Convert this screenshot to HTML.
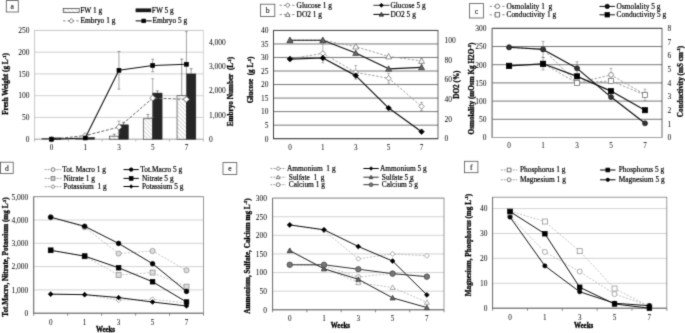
<!DOCTYPE html><html><head><meta charset="utf-8"><style>html,body{margin:0;padding:0;background:#fff;}svg{display:block;}#w{width:685px;height:333px;overflow:hidden;}text{font-family:"Liberation Serif",serif;}</style></head><body>
<div id="w">
<svg width="685" height="333" viewBox="0 0 685 333">
<defs><filter id="bl" color-interpolation-filters="sRGB" x="0" y="0" width="100%" height="100%"><feConvolveMatrix order="3" kernelMatrix="0.0366 0.191 0.0366 0.191 1 0.191 0.0366 0.191 0.0366" divisor="1.911" edgeMode="duplicate"/></filter><pattern id="hatch" patternUnits="userSpaceOnUse" width="2.9" height="2.9" patternTransform="rotate(-45)"><rect width="2.9" height="2.9" fill="#fff"/><line x1="0" y1="0" x2="0" y2="2.9" stroke="#8a8a8a" stroke-width="0.65"/></pattern></defs>
<rect width="685" height="333" fill="#fff"/><g filter="url(#bl)"><rect width="685" height="333" fill="#fff"/>
<line x1="34.60" y1="117.44" x2="203.30" y2="117.44" stroke="#c4c4c4" stroke-width="0.8"/>
<line x1="34.60" y1="95.68" x2="203.30" y2="95.68" stroke="#c4c4c4" stroke-width="0.8"/>
<line x1="34.60" y1="73.92" x2="203.30" y2="73.92" stroke="#c4c4c4" stroke-width="0.8"/>
<line x1="34.60" y1="52.16" x2="203.30" y2="52.16" stroke="#c4c4c4" stroke-width="0.8"/>
<line x1="34.60" y1="30.40" x2="203.30" y2="30.40" stroke="#c4c4c4" stroke-width="0.8"/>
<rect x="34.60" y="30.40" width="168.70" height="108.80" fill="none" stroke="#c8c8c8" stroke-width="0.8"/>
<line x1="34.60" y1="30.40" x2="34.60" y2="139.60" stroke="#c8c8c8" stroke-width="0.9"/>
<line x1="34.20" y1="139.20" x2="203.30" y2="139.20" stroke="#a8a8a8" stroke-width="0.9"/>
<line x1="34.60" y1="139.20" x2="34.60" y2="141.70" stroke="#a8a8a8" stroke-width="0.8"/>
<line x1="68.34" y1="139.20" x2="68.34" y2="141.70" stroke="#a8a8a8" stroke-width="0.8"/>
<line x1="102.08" y1="139.20" x2="102.08" y2="141.70" stroke="#a8a8a8" stroke-width="0.8"/>
<line x1="135.82" y1="139.20" x2="135.82" y2="141.70" stroke="#a8a8a8" stroke-width="0.8"/>
<line x1="169.56" y1="139.20" x2="169.56" y2="141.70" stroke="#a8a8a8" stroke-width="0.8"/>
<line x1="203.30" y1="139.20" x2="203.30" y2="141.70" stroke="#a8a8a8" stroke-width="0.8"/>
<text transform="translate(29.50 142.00) scale(1 1.04)" font-size="7.5" font-weight="normal" text-anchor="end" fill="#000" stroke="#000" stroke-width="0.0">0</text>
<text transform="translate(29.50 120.24) scale(1 1.04)" font-size="7.5" font-weight="normal" text-anchor="end" fill="#000" stroke="#000" stroke-width="0.0">50</text>
<text transform="translate(29.50 98.48) scale(1 1.04)" font-size="7.5" font-weight="normal" text-anchor="end" fill="#000" stroke="#000" stroke-width="0.0">100</text>
<text transform="translate(29.50 76.72) scale(1 1.04)" font-size="7.5" font-weight="normal" text-anchor="end" fill="#000" stroke="#000" stroke-width="0.0">150</text>
<text transform="translate(29.50 54.96) scale(1 1.04)" font-size="7.5" font-weight="normal" text-anchor="end" fill="#000" stroke="#000" stroke-width="0.0">200</text>
<text transform="translate(29.50 33.20) scale(1 1.04)" font-size="7.5" font-weight="normal" text-anchor="end" fill="#000" stroke="#000" stroke-width="0.0">250</text>
<text transform="translate(51.47 149.80) scale(1 1.0)" font-size="7.2" font-weight="normal" text-anchor="middle" fill="#000" stroke="#000" stroke-width="0.0">0</text>
<text transform="translate(85.21 149.80) scale(1 1.0)" font-size="7.2" font-weight="normal" text-anchor="middle" fill="#000" stroke="#000" stroke-width="0.0">1</text>
<text transform="translate(118.95 149.80) scale(1 1.0)" font-size="7.2" font-weight="normal" text-anchor="middle" fill="#000" stroke="#000" stroke-width="0.0">3</text>
<text transform="translate(152.69 149.80) scale(1 1.0)" font-size="7.2" font-weight="normal" text-anchor="middle" fill="#000" stroke="#000" stroke-width="0.0">5</text>
<text transform="translate(186.43 149.80) scale(1 1.0)" font-size="7.2" font-weight="normal" text-anchor="middle" fill="#000" stroke="#000" stroke-width="0.0">7</text>
<text transform="translate(209.00 141.80) scale(1 1.04)" font-size="7.5" font-weight="normal" text-anchor="start" fill="#000" stroke="#000" stroke-width="0.0">0</text>
<text transform="translate(209.00 117.62) scale(1 1.04)" font-size="7.5" font-weight="normal" text-anchor="start" fill="#000" stroke="#000" stroke-width="0.0">1,000</text>
<text transform="translate(209.00 93.44) scale(1 1.04)" font-size="7.5" font-weight="normal" text-anchor="start" fill="#000" stroke="#000" stroke-width="0.0">2,000</text>
<text transform="translate(209.00 69.27) scale(1 1.04)" font-size="7.5" font-weight="normal" text-anchor="start" fill="#000" stroke="#000" stroke-width="0.0">3,000</text>
<text transform="translate(209.00 45.09) scale(1 1.04)" font-size="7.5" font-weight="normal" text-anchor="start" fill="#000" stroke="#000" stroke-width="0.0">4,000</text>
<rect x="42.07" y="138.55" width="9.40" height="0.65" fill="url(#hatch)" stroke="#444" stroke-width="0.7"/>
<rect x="51.47" y="137.89" width="9.40" height="1.31" fill="#262626" stroke="#222" stroke-width="0.5"/>
<rect x="75.81" y="138.76" width="9.40" height="0.44" fill="url(#hatch)" stroke="#444" stroke-width="0.7"/>
<rect x="85.21" y="137.46" width="9.40" height="1.74" fill="#262626" stroke="#222" stroke-width="0.5"/>
<rect x="109.55" y="136.15" width="9.40" height="3.05" fill="url(#hatch)" stroke="#444" stroke-width="0.7"/>
<rect x="118.95" y="124.84" width="9.40" height="14.36" fill="#262626" stroke="#222" stroke-width="0.5"/>
<line x1="114.25" y1="134.20" x2="114.25" y2="136.15" stroke="#555" stroke-width="0.6"/>
<line x1="112.75" y1="134.20" x2="115.75" y2="134.20" stroke="#555" stroke-width="0.6"/>
<line x1="123.65" y1="122.23" x2="123.65" y2="124.84" stroke="#555" stroke-width="0.6"/>
<line x1="122.15" y1="122.23" x2="125.15" y2="122.23" stroke="#555" stroke-width="0.6"/>
<rect x="143.29" y="118.75" width="9.40" height="20.45" fill="url(#hatch)" stroke="#444" stroke-width="0.7"/>
<rect x="152.69" y="93.07" width="9.40" height="46.13" fill="#262626" stroke="#222" stroke-width="0.5"/>
<line x1="147.99" y1="114.39" x2="147.99" y2="118.75" stroke="#555" stroke-width="0.6"/>
<line x1="146.49" y1="114.39" x2="149.49" y2="114.39" stroke="#555" stroke-width="0.6"/>
<line x1="157.39" y1="90.89" x2="157.39" y2="93.07" stroke="#555" stroke-width="0.6"/>
<line x1="155.89" y1="90.89" x2="158.89" y2="90.89" stroke="#555" stroke-width="0.6"/>
<rect x="177.03" y="95.68" width="9.40" height="43.52" fill="url(#hatch)" stroke="#444" stroke-width="0.7"/>
<rect x="186.43" y="73.92" width="9.40" height="65.28" fill="#262626" stroke="#222" stroke-width="0.5"/>
<line x1="181.73" y1="59.12" x2="181.73" y2="95.68" stroke="#555" stroke-width="0.6"/>
<line x1="180.23" y1="59.12" x2="183.23" y2="59.12" stroke="#555" stroke-width="0.6"/>
<line x1="191.13" y1="68.70" x2="191.13" y2="73.92" stroke="#555" stroke-width="0.6"/>
<line x1="189.63" y1="68.70" x2="192.63" y2="68.70" stroke="#555" stroke-width="0.6"/>
<polyline points="51.47,139.20 85.21,135.57 118.95,127.11 152.69,98.10 186.43,99.31" fill="none" stroke="#666" stroke-width="1.0" stroke-dasharray="3,1.6" stroke-linejoin="round"/>
<line x1="118.95" y1="121.07" x2="118.95" y2="133.16" stroke="#777" stroke-width="0.6"/>
<line x1="117.45" y1="121.07" x2="120.45" y2="121.07" stroke="#777" stroke-width="0.6"/>
<line x1="117.45" y1="133.16" x2="120.45" y2="133.16" stroke="#777" stroke-width="0.6"/>
<line x1="152.69" y1="78.76" x2="152.69" y2="117.44" stroke="#777" stroke-width="0.6"/>
<line x1="151.19" y1="78.76" x2="154.19" y2="78.76" stroke="#777" stroke-width="0.6"/>
<line x1="151.19" y1="117.44" x2="154.19" y2="117.44" stroke="#777" stroke-width="0.6"/>
<polygon points="51.47,136.20 54.47,139.20 51.47,142.20 48.47,139.20" fill="#fff" stroke="#555" stroke-width="0.7"/>
<polygon points="85.21,132.57 88.21,135.57 85.21,138.57 82.21,135.57" fill="#fff" stroke="#555" stroke-width="0.7"/>
<polygon points="118.95,124.11 121.95,127.11 118.95,130.11 115.95,127.11" fill="#fff" stroke="#555" stroke-width="0.7"/>
<polygon points="152.69,95.10 155.69,98.10 152.69,101.10 149.69,98.10" fill="#fff" stroke="#555" stroke-width="0.7"/>
<polygon points="186.43,96.31 189.43,99.31 186.43,102.31 183.43,99.31" fill="#fff" stroke="#555" stroke-width="0.7"/>
<polyline points="51.47,139.20 85.21,137.99 118.95,70.29 152.69,65.46 186.43,64.25" fill="none" stroke="#111" stroke-width="1.1" stroke-linejoin="round"/>
<line x1="118.95" y1="51.43" x2="118.95" y2="89.15" stroke="#666" stroke-width="0.6"/>
<line x1="117.45" y1="51.43" x2="120.45" y2="51.43" stroke="#666" stroke-width="0.6"/>
<line x1="117.45" y1="89.15" x2="120.45" y2="89.15" stroke="#666" stroke-width="0.6"/>
<line x1="152.69" y1="59.17" x2="152.69" y2="71.74" stroke="#666" stroke-width="0.6"/>
<line x1="151.19" y1="59.17" x2="154.19" y2="59.17" stroke="#666" stroke-width="0.6"/>
<line x1="151.19" y1="71.74" x2="154.19" y2="71.74" stroke="#666" stroke-width="0.6"/>
<line x1="186.43" y1="31.61" x2="186.43" y2="96.89" stroke="#666" stroke-width="0.6"/>
<line x1="184.93" y1="31.61" x2="187.93" y2="31.61" stroke="#666" stroke-width="0.6"/>
<line x1="184.93" y1="96.89" x2="187.93" y2="96.89" stroke="#666" stroke-width="0.6"/>
<rect x="49.52" y="137.25" width="3.90" height="3.90" fill="#000" stroke="#000" stroke-width="0.7"/>
<rect x="83.26" y="136.04" width="3.90" height="3.90" fill="#000" stroke="#000" stroke-width="0.7"/>
<rect x="117.00" y="68.34" width="3.90" height="3.90" fill="#000" stroke="#000" stroke-width="0.7"/>
<rect x="150.74" y="63.51" width="3.90" height="3.90" fill="#000" stroke="#000" stroke-width="0.7"/>
<rect x="184.48" y="62.30" width="3.90" height="3.90" fill="#000" stroke="#000" stroke-width="0.7"/>
<rect x="6.3" y="0.6" width="12.0" height="11.4" fill="#fff" stroke="#555" stroke-width="0.8"/>
<text transform="translate(12.30 9.10) scale(1 1.04)" font-size="7.6" font-weight="normal" text-anchor="middle" fill="#222" stroke="#222" stroke-width="0.15">a</text>
<rect x="63.2" y="8.4" width="16" height="4" fill="url(#hatch)" stroke="#333" stroke-width="0.7"/>
<text transform="translate(80.20 12.60) scale(1 1.04)" font-size="7.4" font-weight="normal" text-anchor="start" fill="#000" stroke="#000" stroke-width="0.18">FW 1 g</text>
<rect x="135.6" y="8.4" width="15.6" height="3.8" fill="#1a1a1a"/>
<text transform="translate(151.80 12.60) scale(1 1.04)" font-size="7.4" font-weight="normal" text-anchor="start" fill="#000" stroke="#000" stroke-width="0.18">FW 5 g</text>
<line x1="63.20" y1="20.90" x2="79.40" y2="20.90" stroke="#777" stroke-width="1" stroke-dasharray="2.2,2.2"/>
<polygon points="71.30,18.60 73.60,20.90 71.30,23.20 69.00,20.90" fill="#fff" stroke="#444" stroke-width="0.7"/>
<text transform="translate(80.50 23.30) scale(1 1.04)" font-size="7.4" font-weight="normal" text-anchor="start" fill="#000" stroke="#000" stroke-width="0.18">Embryo 1 g</text>
<line x1="135.60" y1="20.90" x2="151.70" y2="20.90" stroke="#000" stroke-width="1"/>
<rect x="141.85" y="19.10" width="3.60" height="3.60" fill="#000" stroke="#000" stroke-width="0.7"/>
<text transform="translate(152.40 23.30) scale(1 1.04)" font-size="7.4" font-weight="normal" text-anchor="start" fill="#000" stroke="#000" stroke-width="0.18">Embryo 5 g</text>
<text transform="translate(8.00 84.00) rotate(-90) scale(1.0 1)" font-size="7.2" font-weight="bold" text-anchor="middle" fill="#000" stroke="#000" stroke-width="0.3">Fresh Weight (g L<tspan font-size="4.5" dy="-2.5">-1</tspan><tspan dy="2.5">)</tspan></text>
<text transform="translate(233.20 91.50) rotate(-90) scale(1.0 1)" font-size="7.2" font-weight="bold" text-anchor="middle" fill="#000" stroke="#000" stroke-width="0.3">Embryo Number&#160; (L<tspan font-size="4.5" dy="-2.5">-1</tspan><tspan dy="2.5">)</tspan></text>
<line x1="273.50" y1="125.16" x2="438.00" y2="125.16" stroke="#6a6a6a" stroke-width="0.9"/>
<line x1="273.50" y1="111.62" x2="438.00" y2="111.62" stroke="#6a6a6a" stroke-width="0.9"/>
<line x1="273.50" y1="98.09" x2="438.00" y2="98.09" stroke="#6a6a6a" stroke-width="0.9"/>
<line x1="273.50" y1="84.55" x2="438.00" y2="84.55" stroke="#6a6a6a" stroke-width="0.9"/>
<line x1="273.50" y1="71.01" x2="438.00" y2="71.01" stroke="#6a6a6a" stroke-width="0.9"/>
<line x1="273.50" y1="57.47" x2="438.00" y2="57.47" stroke="#6a6a6a" stroke-width="0.9"/>
<line x1="273.50" y1="43.94" x2="438.00" y2="43.94" stroke="#6a6a6a" stroke-width="0.9"/>
<line x1="273.50" y1="30.40" x2="438.00" y2="30.40" stroke="#6a6a6a" stroke-width="0.9"/>
<rect x="273.50" y="30.40" width="164.50" height="108.30" fill="none" stroke="#404040" stroke-width="0.8"/>
<line x1="273.50" y1="30.40" x2="273.50" y2="139.10" stroke="#404040" stroke-width="0.9"/>
<line x1="273.10" y1="138.70" x2="438.00" y2="138.70" stroke="#404040" stroke-width="0.9"/>
<text transform="translate(268.50 141.50) scale(1 1.04)" font-size="7.5" font-weight="normal" text-anchor="end" fill="#000" stroke="#000" stroke-width="0.0">0</text>
<text transform="translate(268.50 127.96) scale(1 1.04)" font-size="7.5" font-weight="normal" text-anchor="end" fill="#000" stroke="#000" stroke-width="0.0">5</text>
<text transform="translate(268.50 114.42) scale(1 1.04)" font-size="7.5" font-weight="normal" text-anchor="end" fill="#000" stroke="#000" stroke-width="0.0">10</text>
<text transform="translate(268.50 100.89) scale(1 1.04)" font-size="7.5" font-weight="normal" text-anchor="end" fill="#000" stroke="#000" stroke-width="0.0">15</text>
<text transform="translate(268.50 87.35) scale(1 1.04)" font-size="7.5" font-weight="normal" text-anchor="end" fill="#000" stroke="#000" stroke-width="0.0">20</text>
<text transform="translate(268.50 73.81) scale(1 1.04)" font-size="7.5" font-weight="normal" text-anchor="end" fill="#000" stroke="#000" stroke-width="0.0">25</text>
<text transform="translate(268.50 60.27) scale(1 1.04)" font-size="7.5" font-weight="normal" text-anchor="end" fill="#000" stroke="#000" stroke-width="0.0">30</text>
<text transform="translate(268.50 46.74) scale(1 1.04)" font-size="7.5" font-weight="normal" text-anchor="end" fill="#000" stroke="#000" stroke-width="0.0">35</text>
<text transform="translate(268.50 33.20) scale(1 1.04)" font-size="7.5" font-weight="normal" text-anchor="end" fill="#000" stroke="#000" stroke-width="0.0">40</text>
<text transform="translate(289.95 149.80) scale(1 1.0)" font-size="7.2" font-weight="normal" text-anchor="middle" fill="#000" stroke="#000" stroke-width="0.0">0</text>
<text transform="translate(322.85 149.80) scale(1 1.0)" font-size="7.2" font-weight="normal" text-anchor="middle" fill="#000" stroke="#000" stroke-width="0.0">1</text>
<text transform="translate(355.75 149.80) scale(1 1.0)" font-size="7.2" font-weight="normal" text-anchor="middle" fill="#000" stroke="#000" stroke-width="0.0">3</text>
<text transform="translate(388.65 149.80) scale(1 1.0)" font-size="7.2" font-weight="normal" text-anchor="middle" fill="#000" stroke="#000" stroke-width="0.0">5</text>
<text transform="translate(421.55 149.80) scale(1 1.0)" font-size="7.2" font-weight="normal" text-anchor="middle" fill="#000" stroke="#000" stroke-width="0.0">7</text>
<text transform="translate(444.50 141.30) scale(1 1.04)" font-size="7.5" font-weight="normal" text-anchor="start" fill="#000" stroke="#000" stroke-width="0.0">0</text>
<text transform="translate(444.50 121.61) scale(1 1.04)" font-size="7.5" font-weight="normal" text-anchor="start" fill="#000" stroke="#000" stroke-width="0.0">20</text>
<text transform="translate(444.50 101.92) scale(1 1.04)" font-size="7.5" font-weight="normal" text-anchor="start" fill="#000" stroke="#000" stroke-width="0.0">40</text>
<text transform="translate(444.50 82.23) scale(1 1.04)" font-size="7.5" font-weight="normal" text-anchor="start" fill="#000" stroke="#000" stroke-width="0.0">60</text>
<text transform="translate(444.50 62.54) scale(1 1.04)" font-size="7.5" font-weight="normal" text-anchor="start" fill="#000" stroke="#000" stroke-width="0.0">80</text>
<text transform="translate(444.50 42.85) scale(1 1.04)" font-size="7.5" font-weight="normal" text-anchor="start" fill="#000" stroke="#000" stroke-width="0.0">100</text>
<rect x="260.5" y="4.2" width="14.300000000000011" height="12.3" fill="#fff" stroke="#555" stroke-width="0.8"/>
<text transform="translate(267.65 13.15) scale(1 1.04)" font-size="7.6" font-weight="normal" text-anchor="middle" fill="#222" stroke="#222" stroke-width="0.15">b</text>
<polyline points="289.95,40.25 322.85,40.25 355.75,46.64 388.65,56.49 421.55,60.92" fill="none" stroke="#999" stroke-width="0.9" stroke-dasharray="2.5,1.5" stroke-linejoin="round"/>
<line x1="421.55" y1="57.97" x2="421.55" y2="63.87" stroke="#888" stroke-width="0.6"/>
<line x1="420.05" y1="57.97" x2="423.05" y2="57.97" stroke="#888" stroke-width="0.6"/>
<line x1="420.05" y1="63.87" x2="423.05" y2="63.87" stroke="#888" stroke-width="0.6"/>
<polygon points="289.95,37.25 292.95,42.65 286.95,42.65" fill="#fff" stroke="#666" stroke-width="0.7"/>
<polygon points="322.85,37.25 325.85,42.65 319.85,42.65" fill="#fff" stroke="#666" stroke-width="0.7"/>
<polygon points="355.75,43.64 358.75,49.04 352.75,49.04" fill="#fff" stroke="#666" stroke-width="0.7"/>
<polygon points="388.65,53.49 391.65,58.89 385.65,58.89" fill="#fff" stroke="#666" stroke-width="0.7"/>
<polygon points="421.55,57.92 424.55,63.32 418.55,63.32" fill="#fff" stroke="#666" stroke-width="0.7"/>
<polyline points="289.95,40.25 322.85,40.25 355.75,53.04 388.65,68.80 421.55,67.32" fill="none" stroke="#111" stroke-width="1.2" stroke-linejoin="round"/>
<polygon points="289.95,37.25 292.95,42.65 286.95,42.65" fill="#666" stroke="#333" stroke-width="0.7"/>
<polygon points="322.85,37.25 325.85,42.65 319.85,42.65" fill="#666" stroke="#333" stroke-width="0.7"/>
<polygon points="355.75,50.04 358.75,55.44 352.75,55.44" fill="#666" stroke="#333" stroke-width="0.7"/>
<polygon points="388.65,65.80 391.65,71.20 385.65,71.20" fill="#666" stroke="#333" stroke-width="0.7"/>
<polygon points="421.55,64.32 424.55,69.72 418.55,69.72" fill="#666" stroke="#333" stroke-width="0.7"/>
<polyline points="289.95,58.83 322.85,53.41 355.75,72.37 388.65,78.32 421.55,106.48" fill="none" stroke="#999" stroke-width="0.9" stroke-dasharray="2.5,1.5" stroke-linejoin="round"/>
<line x1="322.85" y1="43.94" x2="322.85" y2="62.89" stroke="#888" stroke-width="0.6"/>
<line x1="321.35" y1="43.94" x2="324.35" y2="43.94" stroke="#888" stroke-width="0.6"/>
<line x1="321.35" y1="62.89" x2="324.35" y2="62.89" stroke="#888" stroke-width="0.6"/>
<line x1="355.75" y1="65.60" x2="355.75" y2="79.14" stroke="#888" stroke-width="0.6"/>
<line x1="354.25" y1="65.60" x2="357.25" y2="65.60" stroke="#888" stroke-width="0.6"/>
<line x1="354.25" y1="79.14" x2="357.25" y2="79.14" stroke="#888" stroke-width="0.6"/>
<line x1="388.65" y1="73.45" x2="388.65" y2="83.20" stroke="#888" stroke-width="0.6"/>
<line x1="387.15" y1="73.45" x2="390.15" y2="73.45" stroke="#888" stroke-width="0.6"/>
<line x1="387.15" y1="83.20" x2="390.15" y2="83.20" stroke="#888" stroke-width="0.6"/>
<line x1="421.55" y1="102.42" x2="421.55" y2="110.54" stroke="#888" stroke-width="0.6"/>
<line x1="420.05" y1="102.42" x2="423.05" y2="102.42" stroke="#888" stroke-width="0.6"/>
<line x1="420.05" y1="110.54" x2="423.05" y2="110.54" stroke="#888" stroke-width="0.6"/>
<polygon points="289.95,56.08 292.70,58.83 289.95,61.58 287.20,58.83" fill="#fff" stroke="#666" stroke-width="0.7"/>
<polygon points="322.85,50.66 325.60,53.41 322.85,56.16 320.10,53.41" fill="#fff" stroke="#666" stroke-width="0.7"/>
<polygon points="355.75,69.62 358.50,72.37 355.75,75.12 353.00,72.37" fill="#fff" stroke="#666" stroke-width="0.7"/>
<polygon points="388.65,75.57 391.40,78.32 388.65,81.07 385.90,78.32" fill="#fff" stroke="#666" stroke-width="0.7"/>
<polygon points="421.55,103.73 424.30,106.48 421.55,109.23 418.80,106.48" fill="#fff" stroke="#666" stroke-width="0.7"/>
<polyline points="289.95,59.10 322.85,58.02 355.75,75.62 388.65,108.11 421.55,131.66" fill="none" stroke="#111" stroke-width="1.2" stroke-linejoin="round"/>
<polygon points="289.95,56.35 292.70,59.10 289.95,61.85 287.20,59.10" fill="#000" stroke="#000" stroke-width="0.7"/>
<polygon points="322.85,55.27 325.60,58.02 322.85,60.77 320.10,58.02" fill="#000" stroke="#000" stroke-width="0.7"/>
<polygon points="355.75,72.87 358.50,75.62 355.75,78.37 353.00,75.62" fill="#000" stroke="#000" stroke-width="0.7"/>
<polygon points="388.65,105.36 391.40,108.11 388.65,110.86 385.90,108.11" fill="#000" stroke="#000" stroke-width="0.7"/>
<polygon points="421.55,128.91 424.30,131.66 421.55,134.41 418.80,131.66" fill="#000" stroke="#000" stroke-width="0.7"/>
<line x1="279.60" y1="5.30" x2="295.80" y2="5.30" stroke="#888" stroke-width="1" stroke-dasharray="2.2,2"/>
<polygon points="287.70,3.00 290.00,5.30 287.70,7.60 285.40,5.30" fill="#fff" stroke="#444" stroke-width="0.7"/>
<text transform="translate(296.60 7.70) scale(1 1.04)" font-size="7.4" font-weight="normal" text-anchor="start" fill="#000" stroke="#000" stroke-width="0.18">Glucose 1 g</text>
<line x1="279.60" y1="14.60" x2="295.80" y2="14.60" stroke="#888" stroke-width="1" stroke-dasharray="2.2,2"/>
<polygon points="287.70,12.30 290.00,16.44 285.40,16.44" fill="#fff" stroke="#444" stroke-width="0.7"/>
<text transform="translate(296.60 17.00) scale(1 1.04)" font-size="7.4" font-weight="normal" text-anchor="start" fill="#000" stroke="#000" stroke-width="0.18">DO2 1 g</text>
<line x1="373.40" y1="5.30" x2="389.40" y2="5.30" stroke="#333" stroke-width="1"/>
<polygon points="381.40,3.30 383.40,5.30 381.40,7.30 379.40,5.30" fill="#000" stroke="#000" stroke-width="0.7"/>
<text transform="translate(390.40 7.70) scale(1 1.04)" font-size="7.4" font-weight="normal" text-anchor="start" fill="#000" stroke="#000" stroke-width="0.18">Glucose 5 g</text>
<line x1="373.40" y1="14.40" x2="389.40" y2="14.40" stroke="#000" stroke-width="1"/>
<polygon points="381.40,12.20 383.60,16.16 379.20,16.16" fill="#555" stroke="#222" stroke-width="0.7"/>
<text transform="translate(390.40 16.80) scale(1 1.04)" font-size="7.4" font-weight="normal" text-anchor="start" fill="#000" stroke="#000" stroke-width="0.18">DO2 5 g</text>
<text transform="translate(253.20 79.90) rotate(-90) scale(1.0 1)" font-size="7.2" font-weight="bold" text-anchor="middle" fill="#000" stroke="#000" stroke-width="0.3">Glucose&#160; (g L<tspan font-size="4.5" dy="-2.5">-1</tspan><tspan dy="2.5">)</tspan></text>
<text transform="translate(458.50 84.60) rotate(-90) scale(1.0 1)" font-size="7.2" font-weight="bold" text-anchor="middle" fill="#000" stroke="#000" stroke-width="0.3">DO2 (%)</text>
<line x1="492.10" y1="119.30" x2="662.00" y2="119.30" stroke="#686868" stroke-width="0.9"/>
<line x1="492.10" y1="101.10" x2="662.00" y2="101.10" stroke="#686868" stroke-width="0.9"/>
<line x1="492.10" y1="82.90" x2="662.00" y2="82.90" stroke="#686868" stroke-width="0.9"/>
<line x1="492.10" y1="64.70" x2="662.00" y2="64.70" stroke="#686868" stroke-width="0.9"/>
<line x1="492.10" y1="46.50" x2="662.00" y2="46.50" stroke="#686868" stroke-width="0.9"/>
<line x1="492.10" y1="28.30" x2="662.00" y2="28.30" stroke="#686868" stroke-width="0.9"/>
<rect x="492.10" y="28.30" width="169.90" height="109.20" fill="none" stroke="#404040" stroke-width="0.8"/>
<line x1="492.10" y1="28.30" x2="492.10" y2="137.90" stroke="#9a9a9a" stroke-width="0.9"/>
<line x1="491.70" y1="137.50" x2="662.00" y2="137.50" stroke="#a8a8a8" stroke-width="0.9"/>
<text transform="translate(486.50 140.30) scale(1 1.04)" font-size="7.5" font-weight="normal" text-anchor="end" fill="#000" stroke="#000" stroke-width="0.0">0</text>
<text transform="translate(486.50 122.10) scale(1 1.04)" font-size="7.5" font-weight="normal" text-anchor="end" fill="#000" stroke="#000" stroke-width="0.0">50</text>
<text transform="translate(486.50 103.90) scale(1 1.04)" font-size="7.5" font-weight="normal" text-anchor="end" fill="#000" stroke="#000" stroke-width="0.0">100</text>
<text transform="translate(486.50 85.70) scale(1 1.04)" font-size="7.5" font-weight="normal" text-anchor="end" fill="#000" stroke="#000" stroke-width="0.0">150</text>
<text transform="translate(486.50 67.50) scale(1 1.04)" font-size="7.5" font-weight="normal" text-anchor="end" fill="#000" stroke="#000" stroke-width="0.0">200</text>
<text transform="translate(486.50 49.30) scale(1 1.04)" font-size="7.5" font-weight="normal" text-anchor="end" fill="#000" stroke="#000" stroke-width="0.0">250</text>
<text transform="translate(486.50 31.10) scale(1 1.04)" font-size="7.5" font-weight="normal" text-anchor="end" fill="#000" stroke="#000" stroke-width="0.0">300</text>
<text transform="translate(509.09 148.20) scale(1 1.0)" font-size="7.2" font-weight="normal" text-anchor="middle" fill="#000" stroke="#000" stroke-width="0.0">0</text>
<text transform="translate(543.07 148.20) scale(1 1.0)" font-size="7.2" font-weight="normal" text-anchor="middle" fill="#000" stroke="#000" stroke-width="0.0">1</text>
<text transform="translate(577.05 148.20) scale(1 1.0)" font-size="7.2" font-weight="normal" text-anchor="middle" fill="#000" stroke="#000" stroke-width="0.0">3</text>
<text transform="translate(611.03 148.20) scale(1 1.0)" font-size="7.2" font-weight="normal" text-anchor="middle" fill="#000" stroke="#000" stroke-width="0.0">5</text>
<text transform="translate(645.01 148.20) scale(1 1.0)" font-size="7.2" font-weight="normal" text-anchor="middle" fill="#000" stroke="#000" stroke-width="0.0">7</text>
<text transform="translate(669.30 140.30) scale(1 1.04)" font-size="7.5" font-weight="normal" text-anchor="middle" fill="#000" stroke="#000" stroke-width="0.0">0</text>
<text transform="translate(669.30 126.65) scale(1 1.04)" font-size="7.5" font-weight="normal" text-anchor="middle" fill="#000" stroke="#000" stroke-width="0.0">1</text>
<text transform="translate(669.30 113.00) scale(1 1.04)" font-size="7.5" font-weight="normal" text-anchor="middle" fill="#000" stroke="#000" stroke-width="0.0">2</text>
<text transform="translate(669.30 99.35) scale(1 1.04)" font-size="7.5" font-weight="normal" text-anchor="middle" fill="#000" stroke="#000" stroke-width="0.0">3</text>
<text transform="translate(669.30 85.70) scale(1 1.04)" font-size="7.5" font-weight="normal" text-anchor="middle" fill="#000" stroke="#000" stroke-width="0.0">4</text>
<text transform="translate(669.30 72.05) scale(1 1.04)" font-size="7.5" font-weight="normal" text-anchor="middle" fill="#000" stroke="#000" stroke-width="0.0">5</text>
<text transform="translate(669.30 58.40) scale(1 1.04)" font-size="7.5" font-weight="normal" text-anchor="middle" fill="#000" stroke="#000" stroke-width="0.0">6</text>
<text transform="translate(669.30 44.75) scale(1 1.04)" font-size="7.5" font-weight="normal" text-anchor="middle" fill="#000" stroke="#000" stroke-width="0.0">7</text>
<text transform="translate(669.30 31.10) scale(1 1.04)" font-size="7.5" font-weight="normal" text-anchor="middle" fill="#000" stroke="#000" stroke-width="0.0">8</text>
<rect x="469.4" y="3.6" width="14.0" height="14.4" fill="#fff" stroke="#555" stroke-width="0.8"/>
<text transform="translate(476.40 13.60) scale(1 1.04)" font-size="7.6" font-weight="normal" text-anchor="middle" fill="#222" stroke="#222" stroke-width="0.15">c</text>
<polyline points="509.09,47.59 543.07,49.05 577.05,82.90 611.03,74.89 645.01,94.55" fill="none" stroke="#999" stroke-width="0.9" stroke-dasharray="2.5,1.5" stroke-linejoin="round"/>
<line x1="611.03" y1="68.34" x2="611.03" y2="81.44" stroke="#888" stroke-width="0.6"/>
<line x1="609.53" y1="68.34" x2="612.53" y2="68.34" stroke="#888" stroke-width="0.6"/>
<line x1="609.53" y1="81.44" x2="612.53" y2="81.44" stroke="#888" stroke-width="0.6"/>
<circle cx="509.09" cy="47.59" r="2.40" fill="#fff" stroke="#666" stroke-width="0.7"/>
<circle cx="543.07" cy="49.05" r="2.40" fill="#fff" stroke="#666" stroke-width="0.7"/>
<circle cx="577.05" cy="82.90" r="2.40" fill="#fff" stroke="#666" stroke-width="0.7"/>
<circle cx="611.03" cy="74.89" r="2.40" fill="#fff" stroke="#666" stroke-width="0.7"/>
<circle cx="645.01" cy="94.55" r="2.40" fill="#fff" stroke="#666" stroke-width="0.7"/>
<polyline points="509.09,65.84 543.07,63.79 577.05,82.90 611.03,80.99 645.01,94.91" fill="none" stroke="#999" stroke-width="0.9" stroke-dasharray="2.5,1.5" stroke-linejoin="round"/>
<line x1="645.01" y1="89.18" x2="645.01" y2="100.64" stroke="#888" stroke-width="0.6"/>
<line x1="643.51" y1="89.18" x2="646.51" y2="89.18" stroke="#888" stroke-width="0.6"/>
<line x1="643.51" y1="100.64" x2="646.51" y2="100.64" stroke="#888" stroke-width="0.6"/>
<rect x="506.49" y="63.24" width="5.20" height="5.20" fill="#fff" stroke="#666" stroke-width="0.7"/>
<rect x="540.47" y="61.19" width="5.20" height="5.20" fill="#fff" stroke="#666" stroke-width="0.7"/>
<rect x="574.45" y="80.30" width="5.20" height="5.20" fill="#fff" stroke="#666" stroke-width="0.7"/>
<rect x="608.43" y="78.39" width="5.20" height="5.20" fill="#fff" stroke="#666" stroke-width="0.7"/>
<rect x="642.41" y="92.31" width="5.20" height="5.20" fill="#fff" stroke="#666" stroke-width="0.7"/>
<polyline points="509.09,47.23 543.07,49.41 577.05,68.34 611.03,97.10 645.01,123.30" fill="none" stroke="#111" stroke-width="1.2" stroke-linejoin="round"/>
<line x1="543.07" y1="41.40" x2="543.07" y2="57.42" stroke="#777" stroke-width="0.6"/>
<line x1="541.57" y1="41.40" x2="544.57" y2="41.40" stroke="#777" stroke-width="0.6"/>
<line x1="541.57" y1="57.42" x2="544.57" y2="57.42" stroke="#777" stroke-width="0.6"/>
<line x1="577.05" y1="61.79" x2="577.05" y2="74.89" stroke="#777" stroke-width="0.6"/>
<line x1="575.55" y1="61.79" x2="578.55" y2="61.79" stroke="#777" stroke-width="0.6"/>
<line x1="575.55" y1="74.89" x2="578.55" y2="74.89" stroke="#777" stroke-width="0.6"/>
<circle cx="509.09" cy="47.23" r="2.50" fill="#333" stroke="#222" stroke-width="0.7"/>
<circle cx="543.07" cy="49.41" r="2.50" fill="#333" stroke="#222" stroke-width="0.7"/>
<circle cx="577.05" cy="68.34" r="2.50" fill="#333" stroke="#222" stroke-width="0.7"/>
<circle cx="611.03" cy="97.10" r="2.50" fill="#333" stroke="#222" stroke-width="0.7"/>
<circle cx="645.01" cy="123.30" r="2.50" fill="#333" stroke="#222" stroke-width="0.7"/>
<polyline points="509.09,65.84 543.07,63.79 577.05,76.35 611.03,91.09 645.01,110.20" fill="none" stroke="#111" stroke-width="1.2" stroke-linejoin="round"/>
<line x1="543.07" y1="57.65" x2="543.07" y2="69.93" stroke="#777" stroke-width="0.6"/>
<line x1="541.57" y1="57.65" x2="544.57" y2="57.65" stroke="#777" stroke-width="0.6"/>
<line x1="541.57" y1="69.93" x2="544.57" y2="69.93" stroke="#777" stroke-width="0.6"/>
<rect x="506.49" y="63.24" width="5.20" height="5.20" fill="#000" stroke="#000" stroke-width="0.7"/>
<rect x="540.47" y="61.19" width="5.20" height="5.20" fill="#000" stroke="#000" stroke-width="0.7"/>
<rect x="574.45" y="73.75" width="5.20" height="5.20" fill="#000" stroke="#000" stroke-width="0.7"/>
<rect x="608.43" y="88.49" width="5.20" height="5.20" fill="#000" stroke="#000" stroke-width="0.7"/>
<rect x="642.41" y="107.60" width="5.20" height="5.20" fill="#000" stroke="#000" stroke-width="0.7"/>
<line x1="489.70" y1="6.30" x2="505.00" y2="6.30" stroke="#888" stroke-width="1" stroke-dasharray="2.2,2"/>
<circle cx="497.35" cy="6.30" r="2.20" fill="#fff" stroke="#444" stroke-width="0.7"/>
<text transform="translate(506.50 8.70) scale(1 1.04)" font-size="7.4" font-weight="normal" text-anchor="start" fill="#000" stroke="#000" stroke-width="0.18">Osmolality 1&#160; g</text>
<line x1="489.70" y1="14.80" x2="505.00" y2="14.80" stroke="#888" stroke-width="1" stroke-dasharray="2.2,2"/>
<rect x="495.15" y="12.60" width="4.40" height="4.40" fill="#fff" stroke="#444" stroke-width="0.7"/>
<text transform="translate(506.50 17.20) scale(1 1.04)" font-size="7.4" font-weight="normal" text-anchor="start" fill="#000" stroke="#000" stroke-width="0.18">Conductivity 1 g</text>
<line x1="599.50" y1="6.40" x2="614.90" y2="6.40" stroke="#111" stroke-width="1"/>
<circle cx="607.20" cy="6.40" r="2.20" fill="#111" stroke="#000" stroke-width="0.7"/>
<text transform="translate(616.60 8.80) scale(1 1.04)" font-size="7.4" font-weight="normal" text-anchor="start" fill="#000" stroke="#000" stroke-width="0.18">Osmolality 5 g</text>
<line x1="599.50" y1="14.80" x2="614.90" y2="14.80" stroke="#111" stroke-width="1"/>
<rect x="605.00" y="12.60" width="4.40" height="4.40" fill="#000" stroke="#000" stroke-width="0.7"/>
<text transform="translate(616.60 17.20) scale(1 1.04)" font-size="7.4" font-weight="normal" text-anchor="start" fill="#000" stroke="#000" stroke-width="0.18">Conductivity 5 g</text>
<text transform="translate(473.50 88.50) rotate(-90) scale(1.0 1)" font-size="7.2" font-weight="bold" text-anchor="middle" fill="#000" stroke="#000" stroke-width="0.3">Osmolality (mOsm Kg H2O<tspan font-size="4.5" dy="-2.5">-1</tspan><tspan dy="2.5">)</tspan></text>
<text transform="translate(682.50 81.50) rotate(-90) scale(1.0 1)" font-size="7.2" font-weight="bold" text-anchor="middle" fill="#000" stroke="#000" stroke-width="0.3">Conductivity (mS cm<tspan font-size="4.5" dy="-2.5">-1</tspan><tspan dy="2.5">)</tspan></text>
<line x1="33.70" y1="289.90" x2="203.50" y2="289.90" stroke="#c8c8c8" stroke-width="0.8"/>
<line x1="33.70" y1="266.60" x2="203.50" y2="266.60" stroke="#c8c8c8" stroke-width="0.8"/>
<line x1="33.70" y1="243.30" x2="203.50" y2="243.30" stroke="#c8c8c8" stroke-width="0.8"/>
<line x1="33.70" y1="220.00" x2="203.50" y2="220.00" stroke="#c8c8c8" stroke-width="0.8"/>
<line x1="33.70" y1="196.70" x2="203.50" y2="196.70" stroke="#c8c8c8" stroke-width="0.8"/>
<rect x="33.70" y="196.70" width="169.80" height="116.50" fill="none" stroke="#808080" stroke-width="0.8"/>
<line x1="33.70" y1="196.70" x2="33.70" y2="313.60" stroke="#6a6a6a" stroke-width="0.9"/>
<line x1="33.30" y1="313.20" x2="203.50" y2="313.20" stroke="#6a6a6a" stroke-width="0.9"/>
<line x1="33.70" y1="313.20" x2="33.70" y2="315.70" stroke="#6a6a6a" stroke-width="0.8"/>
<line x1="67.66" y1="313.20" x2="67.66" y2="315.70" stroke="#6a6a6a" stroke-width="0.8"/>
<line x1="101.62" y1="313.20" x2="101.62" y2="315.70" stroke="#6a6a6a" stroke-width="0.8"/>
<line x1="135.58" y1="313.20" x2="135.58" y2="315.70" stroke="#6a6a6a" stroke-width="0.8"/>
<line x1="169.54" y1="313.20" x2="169.54" y2="315.70" stroke="#6a6a6a" stroke-width="0.8"/>
<line x1="203.50" y1="313.20" x2="203.50" y2="315.70" stroke="#6a6a6a" stroke-width="0.8"/>
<text transform="translate(28.30 316.00) scale(1 1.04)" font-size="7.5" font-weight="normal" text-anchor="end" fill="#000" stroke="#000" stroke-width="0.0">0</text>
<text transform="translate(28.30 292.70) scale(1 1.04)" font-size="7.5" font-weight="normal" text-anchor="end" fill="#000" stroke="#000" stroke-width="0.0">1,000</text>
<text transform="translate(28.30 269.40) scale(1 1.04)" font-size="7.5" font-weight="normal" text-anchor="end" fill="#000" stroke="#000" stroke-width="0.0">2,000</text>
<text transform="translate(28.30 246.10) scale(1 1.04)" font-size="7.5" font-weight="normal" text-anchor="end" fill="#000" stroke="#000" stroke-width="0.0">3,000</text>
<text transform="translate(28.30 222.80) scale(1 1.04)" font-size="7.5" font-weight="normal" text-anchor="end" fill="#000" stroke="#000" stroke-width="0.0">4,000</text>
<text transform="translate(28.30 199.50) scale(1 1.04)" font-size="7.5" font-weight="normal" text-anchor="end" fill="#000" stroke="#000" stroke-width="0.0">5,000</text>
<text transform="translate(50.68 324.60) scale(1 1.0)" font-size="7.2" font-weight="normal" text-anchor="middle" fill="#000" stroke="#000" stroke-width="0.0">0</text>
<text transform="translate(84.64 324.60) scale(1 1.0)" font-size="7.2" font-weight="normal" text-anchor="middle" fill="#000" stroke="#000" stroke-width="0.0">1</text>
<text transform="translate(118.60 324.60) scale(1 1.0)" font-size="7.2" font-weight="normal" text-anchor="middle" fill="#000" stroke="#000" stroke-width="0.0">3</text>
<text transform="translate(152.56 324.60) scale(1 1.0)" font-size="7.2" font-weight="normal" text-anchor="middle" fill="#000" stroke="#000" stroke-width="0.0">5</text>
<text transform="translate(186.52 324.60) scale(1 1.0)" font-size="7.2" font-weight="normal" text-anchor="middle" fill="#000" stroke="#000" stroke-width="0.0">7</text>
<rect x="0.5" y="162.2" width="12.7" height="11.200000000000017" fill="#fff" stroke="#555" stroke-width="0.8"/>
<text transform="translate(6.85 170.60) scale(1 1.04)" font-size="7.6" font-weight="normal" text-anchor="middle" fill="#222" stroke="#222" stroke-width="0.15">d</text>
<polyline points="50.68,217.20 84.64,227.22 118.60,253.55 152.56,250.99 186.52,270.33" fill="none" stroke="#aaa" stroke-width="0.7" stroke-dasharray="2,1.5" stroke-linejoin="round"/>
<circle cx="50.68" cy="217.20" r="2.60" fill="#ddd" stroke="#888" stroke-width="0.7"/>
<circle cx="84.64" cy="227.22" r="2.60" fill="#ddd" stroke="#888" stroke-width="0.7"/>
<circle cx="118.60" cy="253.55" r="2.60" fill="#ddd" stroke="#888" stroke-width="0.7"/>
<circle cx="152.56" cy="250.99" r="2.60" fill="#ddd" stroke="#888" stroke-width="0.7"/>
<circle cx="186.52" cy="270.33" r="2.60" fill="#ddd" stroke="#888" stroke-width="0.7"/>
<polyline points="50.68,250.29 84.64,256.35 118.60,274.99 152.56,272.54 186.52,286.64" fill="none" stroke="#aaa" stroke-width="0.7" stroke-dasharray="2,1.5" stroke-linejoin="round"/>
<rect x="48.18" y="247.79" width="5.00" height="5.00" fill="#ddd" stroke="#888" stroke-width="0.7"/>
<rect x="82.14" y="253.85" width="5.00" height="5.00" fill="#ddd" stroke="#888" stroke-width="0.7"/>
<rect x="116.10" y="272.49" width="5.00" height="5.00" fill="#ddd" stroke="#888" stroke-width="0.7"/>
<rect x="150.06" y="270.04" width="5.00" height="5.00" fill="#ddd" stroke="#888" stroke-width="0.7"/>
<rect x="184.02" y="284.14" width="5.00" height="5.00" fill="#ddd" stroke="#888" stroke-width="0.7"/>
<polyline points="50.68,294.16 84.64,294.65 118.60,300.15 152.56,299.22 186.52,302.95" fill="none" stroke="#aaa" stroke-width="0.7" stroke-dasharray="2,1.5" stroke-linejoin="round"/>
<polygon points="50.68,291.66 53.18,294.16 50.68,296.66 48.18,294.16" fill="#fff" stroke="#888" stroke-width="0.7"/>
<polygon points="84.64,292.15 87.14,294.65 84.64,297.15 82.14,294.65" fill="#fff" stroke="#888" stroke-width="0.7"/>
<polygon points="118.60,297.65 121.10,300.15 118.60,302.65 116.10,300.15" fill="#fff" stroke="#888" stroke-width="0.7"/>
<polygon points="152.56,296.72 155.06,299.22 152.56,301.72 150.06,299.22" fill="#fff" stroke="#888" stroke-width="0.7"/>
<polygon points="186.52,300.45 189.02,302.95 186.52,305.45 184.02,302.95" fill="#fff" stroke="#888" stroke-width="0.7"/>
<polyline points="50.68,217.20 84.64,226.29 118.60,243.42 152.56,263.69 186.52,291.41" fill="none" stroke="#111" stroke-width="1.0" stroke-linejoin="round"/>
<circle cx="50.68" cy="217.20" r="2.30" fill="#000" stroke="#000" stroke-width="0.7"/>
<circle cx="84.64" cy="226.29" r="2.30" fill="#000" stroke="#000" stroke-width="0.7"/>
<circle cx="118.60" cy="243.42" r="2.30" fill="#000" stroke="#000" stroke-width="0.7"/>
<circle cx="152.56" cy="263.69" r="2.30" fill="#000" stroke="#000" stroke-width="0.7"/>
<circle cx="186.52" cy="291.41" r="2.30" fill="#000" stroke="#000" stroke-width="0.7"/>
<polyline points="50.68,250.29 84.64,256.12 118.60,267.76 152.56,281.75 186.52,302.02" fill="none" stroke="#111" stroke-width="1.0" stroke-linejoin="round"/>
<rect x="48.38" y="247.99" width="4.60" height="4.60" fill="#000" stroke="#000" stroke-width="0.7"/>
<rect x="82.34" y="253.81" width="4.60" height="4.60" fill="#000" stroke="#000" stroke-width="0.7"/>
<rect x="116.30" y="265.46" width="4.60" height="4.60" fill="#000" stroke="#000" stroke-width="0.7"/>
<rect x="150.26" y="279.44" width="4.60" height="4.60" fill="#000" stroke="#000" stroke-width="0.7"/>
<rect x="184.22" y="299.72" width="4.60" height="4.60" fill="#000" stroke="#000" stroke-width="0.7"/>
<polyline points="50.68,294.16 84.64,294.65 118.60,297.59 152.56,302.02 186.52,305.98" fill="none" stroke="#111" stroke-width="1.0" stroke-linejoin="round"/>
<polygon points="50.68,291.86 52.98,294.16 50.68,296.46 48.38,294.16" fill="#000" stroke="#000" stroke-width="0.7"/>
<polygon points="84.64,292.35 86.94,294.65 84.64,296.95 82.34,294.65" fill="#000" stroke="#000" stroke-width="0.7"/>
<polygon points="118.60,295.29 120.90,297.59 118.60,299.89 116.30,297.59" fill="#000" stroke="#000" stroke-width="0.7"/>
<polygon points="152.56,299.72 154.86,302.02 152.56,304.32 150.26,302.02" fill="#000" stroke="#000" stroke-width="0.7"/>
<polygon points="186.52,303.68 188.82,305.98 186.52,308.28 184.22,305.98" fill="#000" stroke="#000" stroke-width="0.7"/>
<line x1="44.70" y1="169.60" x2="61.30" y2="169.60" stroke="#999" stroke-width="1" stroke-dasharray="1.8,1.2"/>
<circle cx="53.00" cy="169.60" r="1.90" fill="#fff" stroke="#444" stroke-width="0.7"/>
<text transform="translate(62.20 172.00) scale(1 1.04)" font-size="7.4" font-weight="normal" text-anchor="start" fill="#000" stroke="#000" stroke-width="0.18">Tot. Macro 1 g</text>
<line x1="44.70" y1="178.40" x2="61.30" y2="178.40" stroke="#999" stroke-width="1" stroke-dasharray="1.8,1.2"/>
<rect x="51.10" y="176.50" width="3.80" height="3.80" fill="#ccc" stroke="#666" stroke-width="0.7"/>
<text transform="translate(63.40 180.80) scale(1 1.04)" font-size="7.4" font-weight="normal" text-anchor="start" fill="#000" stroke="#000" stroke-width="0.18">Nitrate 1 g</text>
<line x1="44.70" y1="186.70" x2="61.30" y2="186.70" stroke="#999" stroke-width="1" stroke-dasharray="1.8,1.2"/>
<polygon points="53.00,184.70 55.00,186.70 53.00,188.70 51.00,186.70" fill="#fff" stroke="#444" stroke-width="0.7"/>
<text transform="translate(63.40 189.10) scale(1 1.04)" font-size="7.4" font-weight="normal" text-anchor="start" fill="#000" stroke="#000" stroke-width="0.18">Potassium&#160; 1 g</text>
<line x1="123.50" y1="169.60" x2="138.80" y2="169.60" stroke="#000" stroke-width="1"/>
<circle cx="131.15" cy="169.60" r="1.80" fill="#000" stroke="#000" stroke-width="0.7"/>
<text transform="translate(140.30 172.00) scale(1 1.04)" font-size="7.4" font-weight="normal" text-anchor="start" fill="#000" stroke="#000" stroke-width="0.18">Tot.Macro 5 g</text>
<line x1="123.50" y1="178.40" x2="138.80" y2="178.40" stroke="#000" stroke-width="1"/>
<rect x="129.25" y="176.50" width="3.80" height="3.80" fill="#000" stroke="#000" stroke-width="0.7"/>
<text transform="translate(142.00 180.80) scale(1 1.04)" font-size="7.4" font-weight="normal" text-anchor="start" fill="#000" stroke="#000" stroke-width="0.18">Nitrate 5 g</text>
<line x1="123.50" y1="186.50" x2="138.80" y2="186.50" stroke="#000" stroke-width="1"/>
<polygon points="131.15,184.70 132.95,186.50 131.15,188.30 129.35,186.50" fill="#000" stroke="#000" stroke-width="0.7"/>
<text transform="translate(142.00 188.90) scale(1 1.04)" font-size="7.4" font-weight="normal" text-anchor="start" fill="#000" stroke="#000" stroke-width="0.18">Potassium 5 g</text>
<text transform="translate(8.40 257.00) rotate(-90) scale(1.0 1)" font-size="7.2" font-weight="bold" text-anchor="middle" fill="#000" stroke="#000" stroke-width="0.3">Tot.Macro, Nitrate, Potassium (mg L<tspan font-size="4.5" dy="-2.5">-1</tspan><tspan dy="2.5">)</tspan></text>
<text transform="translate(105.50 331.80) scale(1 1.04)" font-size="6.9" font-weight="bold" text-anchor="middle" fill="#000" stroke="#000" stroke-width="0.3">Weeks</text>
<line x1="272.60" y1="291.18" x2="444.00" y2="291.18" stroke="#c8c8c8" stroke-width="0.8"/>
<line x1="272.60" y1="272.57" x2="444.00" y2="272.57" stroke="#c8c8c8" stroke-width="0.8"/>
<line x1="272.60" y1="253.95" x2="444.00" y2="253.95" stroke="#c8c8c8" stroke-width="0.8"/>
<line x1="272.60" y1="235.33" x2="444.00" y2="235.33" stroke="#c8c8c8" stroke-width="0.8"/>
<line x1="272.60" y1="216.72" x2="444.00" y2="216.72" stroke="#c8c8c8" stroke-width="0.8"/>
<line x1="272.60" y1="198.10" x2="444.00" y2="198.10" stroke="#c8c8c8" stroke-width="0.8"/>
<rect x="272.60" y="198.10" width="171.40" height="111.70" fill="none" stroke="#808080" stroke-width="0.8"/>
<line x1="272.60" y1="198.10" x2="272.60" y2="310.20" stroke="#6a6a6a" stroke-width="0.9"/>
<line x1="272.20" y1="309.80" x2="444.00" y2="309.80" stroke="#6a6a6a" stroke-width="0.9"/>
<line x1="272.60" y1="309.80" x2="272.60" y2="312.30" stroke="#6a6a6a" stroke-width="0.8"/>
<line x1="306.88" y1="309.80" x2="306.88" y2="312.30" stroke="#6a6a6a" stroke-width="0.8"/>
<line x1="341.16" y1="309.80" x2="341.16" y2="312.30" stroke="#6a6a6a" stroke-width="0.8"/>
<line x1="375.44" y1="309.80" x2="375.44" y2="312.30" stroke="#6a6a6a" stroke-width="0.8"/>
<line x1="409.72" y1="309.80" x2="409.72" y2="312.30" stroke="#6a6a6a" stroke-width="0.8"/>
<line x1="444.00" y1="309.80" x2="444.00" y2="312.30" stroke="#6a6a6a" stroke-width="0.8"/>
<text transform="translate(267.00 312.60) scale(1 1.04)" font-size="7.5" font-weight="normal" text-anchor="end" fill="#000" stroke="#000" stroke-width="0.0">0</text>
<text transform="translate(267.00 293.98) scale(1 1.04)" font-size="7.5" font-weight="normal" text-anchor="end" fill="#000" stroke="#000" stroke-width="0.0">50</text>
<text transform="translate(267.00 275.37) scale(1 1.04)" font-size="7.5" font-weight="normal" text-anchor="end" fill="#000" stroke="#000" stroke-width="0.0">100</text>
<text transform="translate(267.00 256.75) scale(1 1.04)" font-size="7.5" font-weight="normal" text-anchor="end" fill="#000" stroke="#000" stroke-width="0.0">150</text>
<text transform="translate(267.00 238.13) scale(1 1.04)" font-size="7.5" font-weight="normal" text-anchor="end" fill="#000" stroke="#000" stroke-width="0.0">200</text>
<text transform="translate(267.00 219.52) scale(1 1.04)" font-size="7.5" font-weight="normal" text-anchor="end" fill="#000" stroke="#000" stroke-width="0.0">250</text>
<text transform="translate(267.00 200.90) scale(1 1.04)" font-size="7.5" font-weight="normal" text-anchor="end" fill="#000" stroke="#000" stroke-width="0.0">300</text>
<text transform="translate(289.74 320.80) scale(1 1.0)" font-size="7.2" font-weight="normal" text-anchor="middle" fill="#000" stroke="#000" stroke-width="0.0">0</text>
<text transform="translate(324.02 320.80) scale(1 1.0)" font-size="7.2" font-weight="normal" text-anchor="middle" fill="#000" stroke="#000" stroke-width="0.0">1</text>
<text transform="translate(358.30 320.80) scale(1 1.0)" font-size="7.2" font-weight="normal" text-anchor="middle" fill="#000" stroke="#000" stroke-width="0.0">3</text>
<text transform="translate(392.58 320.80) scale(1 1.0)" font-size="7.2" font-weight="normal" text-anchor="middle" fill="#000" stroke="#000" stroke-width="0.0">5</text>
<text transform="translate(426.86 320.80) scale(1 1.0)" font-size="7.2" font-weight="normal" text-anchor="middle" fill="#000" stroke="#000" stroke-width="0.0">7</text>
<rect x="223" y="162.6" width="13.800000000000011" height="11.900000000000006" fill="#fff" stroke="#555" stroke-width="0.8"/>
<text transform="translate(229.90 171.35) scale(1 1.04)" font-size="7.6" font-weight="normal" text-anchor="middle" fill="#222" stroke="#222" stroke-width="0.15">e</text>
<polyline points="289.74,224.91 324.02,230.49 358.30,258.79 392.58,253.95 426.86,255.81" fill="none" stroke="#aaa" stroke-width="0.7" stroke-dasharray="2,1.5" stroke-linejoin="round"/>
<polygon points="289.74,222.41 292.24,224.91 289.74,227.41 287.24,224.91" fill="#fff" stroke="#888" stroke-width="0.7"/>
<polygon points="324.02,227.99 326.52,230.49 324.02,232.99 321.52,230.49" fill="#fff" stroke="#888" stroke-width="0.7"/>
<polygon points="358.30,256.29 360.80,258.79 358.30,261.29 355.80,258.79" fill="#fff" stroke="#888" stroke-width="0.7"/>
<polygon points="392.58,251.45 395.08,253.95 392.58,256.45 390.08,253.95" fill="#fff" stroke="#888" stroke-width="0.7"/>
<polygon points="426.86,253.31 429.36,255.81 426.86,258.31 424.36,255.81" fill="#fff" stroke="#888" stroke-width="0.7"/>
<polyline points="289.74,250.60 324.02,268.10 358.30,282.62 392.58,287.46 426.86,302.35" fill="none" stroke="#aaa" stroke-width="0.7" stroke-dasharray="2,1.5" stroke-linejoin="round"/>
<polygon points="289.74,248.10 292.24,252.60 287.24,252.60" fill="#fff" stroke="#888" stroke-width="0.7"/>
<polygon points="324.02,265.60 326.52,270.10 321.52,270.10" fill="#fff" stroke="#888" stroke-width="0.7"/>
<polygon points="358.30,280.12 360.80,284.62 355.80,284.62" fill="#fff" stroke="#888" stroke-width="0.7"/>
<polygon points="392.58,284.96 395.08,289.46 390.08,289.46" fill="#fff" stroke="#888" stroke-width="0.7"/>
<polygon points="426.86,299.85 429.36,304.35 424.36,304.35" fill="#fff" stroke="#888" stroke-width="0.7"/>
<polyline points="289.74,264.75 324.02,265.86 358.30,277.03 392.58,273.31 426.86,276.66" fill="none" stroke="#aaa" stroke-width="0.7" stroke-dasharray="2,1.5" stroke-linejoin="round"/>
<circle cx="289.74" cy="264.75" r="2.50" fill="#fff" stroke="#888" stroke-width="0.7"/>
<circle cx="324.02" cy="265.86" r="2.50" fill="#fff" stroke="#888" stroke-width="0.7"/>
<circle cx="358.30" cy="277.03" r="2.50" fill="#fff" stroke="#888" stroke-width="0.7"/>
<circle cx="392.58" cy="273.31" r="2.50" fill="#fff" stroke="#888" stroke-width="0.7"/>
<circle cx="426.86" cy="276.66" r="2.50" fill="#fff" stroke="#888" stroke-width="0.7"/>
<polyline points="289.74,224.91 324.02,229.75 358.30,246.50 392.58,261.02 426.86,294.91" fill="none" stroke="#111" stroke-width="1.0" stroke-linejoin="round"/>
<polygon points="289.74,222.51 292.14,224.91 289.74,227.31 287.34,224.91" fill="#000" stroke="#000" stroke-width="0.7"/>
<polygon points="324.02,227.35 326.42,229.75 324.02,232.15 321.62,229.75" fill="#000" stroke="#000" stroke-width="0.7"/>
<polygon points="358.30,244.10 360.70,246.50 358.30,248.90 355.90,246.50" fill="#000" stroke="#000" stroke-width="0.7"/>
<polygon points="392.58,258.62 394.98,261.02 392.58,263.42 390.18,261.02" fill="#000" stroke="#000" stroke-width="0.7"/>
<polygon points="426.86,292.51 429.26,294.91 426.86,297.31 424.46,294.91" fill="#000" stroke="#000" stroke-width="0.7"/>
<polyline points="289.74,250.60 324.02,268.84 358.30,279.27 392.58,297.89 426.86,307.57" fill="none" stroke="#222" stroke-width="1.0" stroke-linejoin="round"/>
<polygon points="289.74,248.00 292.34,252.68 287.14,252.68" fill="#666" stroke="#333" stroke-width="0.7"/>
<polygon points="324.02,266.24 326.62,270.92 321.42,270.92" fill="#666" stroke="#333" stroke-width="0.7"/>
<polygon points="358.30,276.67 360.90,281.35 355.70,281.35" fill="#666" stroke="#333" stroke-width="0.7"/>
<polygon points="392.58,295.29 395.18,299.97 389.98,299.97" fill="#666" stroke="#333" stroke-width="0.7"/>
<polygon points="426.86,304.97 429.46,309.65 424.26,309.65" fill="#666" stroke="#333" stroke-width="0.7"/>
<polyline points="289.74,264.75 324.02,264.75 358.30,269.22 392.58,273.68 426.86,276.66" fill="none" stroke="#333" stroke-width="1.0" stroke-linejoin="round"/>
<circle cx="289.74" cy="264.75" r="2.70" fill="#777" stroke="#444" stroke-width="0.7"/>
<circle cx="324.02" cy="264.75" r="2.70" fill="#777" stroke="#444" stroke-width="0.7"/>
<circle cx="358.30" cy="269.22" r="2.70" fill="#777" stroke="#444" stroke-width="0.7"/>
<circle cx="392.58" cy="273.68" r="2.70" fill="#777" stroke="#444" stroke-width="0.7"/>
<circle cx="426.86" cy="276.66" r="2.70" fill="#777" stroke="#444" stroke-width="0.7"/>
<line x1="270.50" y1="168.60" x2="285.80" y2="168.60" stroke="#999" stroke-width="1" stroke-dasharray="1.8,1.2"/>
<polygon points="278.15,166.60 280.15,168.60 278.15,170.60 276.15,168.60" fill="#fff" stroke="#444" stroke-width="0.7"/>
<text transform="translate(287.00 171.00) scale(1 1.04)" font-size="7.4" font-weight="normal" text-anchor="start" fill="#000" stroke="#000" stroke-width="0.18">Ammonium&#160; 1 g</text>
<line x1="270.50" y1="177.20" x2="285.80" y2="177.20" stroke="#999" stroke-width="1" stroke-dasharray="1.8,1.2"/>
<polygon points="278.15,175.30 280.05,178.72 276.25,178.72" fill="#fff" stroke="#444" stroke-width="0.7"/>
<text transform="translate(288.80 179.60) scale(1 1.04)" font-size="7.4" font-weight="normal" text-anchor="start" fill="#000" stroke="#000" stroke-width="0.18">Sulfate&#160; 1&#160; g</text>
<line x1="270.50" y1="184.70" x2="285.80" y2="184.70" stroke="#999" stroke-width="1" stroke-dasharray="1.8,1.2"/>
<circle cx="278.15" cy="184.70" r="1.90" fill="#fff" stroke="#444" stroke-width="0.7"/>
<text transform="translate(288.80 187.10) scale(1 1.04)" font-size="7.4" font-weight="normal" text-anchor="start" fill="#000" stroke="#000" stroke-width="0.18">Calcium 1 g</text>
<line x1="363.40" y1="168.50" x2="378.70" y2="168.50" stroke="#000" stroke-width="1"/>
<polygon points="371.05,166.70 372.85,168.50 371.05,170.30 369.25,168.50" fill="#000" stroke="#000" stroke-width="0.7"/>
<text transform="translate(380.00 170.90) scale(1 1.04)" font-size="7.4" font-weight="normal" text-anchor="start" fill="#000" stroke="#000" stroke-width="0.18">Ammonium 5 g</text>
<line x1="363.40" y1="177.20" x2="378.70" y2="177.20" stroke="#333" stroke-width="1"/>
<polygon points="371.05,175.30 372.95,178.72 369.15,178.72" fill="#666" stroke="#333" stroke-width="0.7"/>
<text transform="translate(381.80 179.60) scale(1 1.04)" font-size="7.4" font-weight="normal" text-anchor="start" fill="#000" stroke="#000" stroke-width="0.18">Sulfate 5 g</text>
<line x1="363.40" y1="184.70" x2="378.70" y2="184.70" stroke="#333" stroke-width="1"/>
<circle cx="371.05" cy="184.70" r="1.90" fill="#777" stroke="#444" stroke-width="0.7"/>
<text transform="translate(381.80 187.10) scale(1 1.04)" font-size="7.4" font-weight="normal" text-anchor="start" fill="#000" stroke="#000" stroke-width="0.18">Calcium 5 g</text>
<text transform="translate(249.50 256.00) rotate(-90) scale(1.0 1)" font-size="7.2" font-weight="bold" text-anchor="middle" fill="#000" stroke="#000" stroke-width="0.3">Ammonium, Sulfate, Calcium mg L<tspan font-size="4.5" dy="-2.5">-1</tspan><tspan dy="2.5">)</tspan></text>
<text transform="translate(340.40 328.30) scale(1 1.04)" font-size="6.9" font-weight="bold" text-anchor="middle" fill="#000" stroke="#000" stroke-width="0.3">Weeks</text>
<line x1="492.60" y1="283.30" x2="666.80" y2="283.30" stroke="#c8c8c8" stroke-width="0.8"/>
<line x1="492.60" y1="258.40" x2="666.80" y2="258.40" stroke="#c8c8c8" stroke-width="0.8"/>
<line x1="492.60" y1="233.50" x2="666.80" y2="233.50" stroke="#c8c8c8" stroke-width="0.8"/>
<line x1="492.60" y1="208.60" x2="666.80" y2="208.60" stroke="#c8c8c8" stroke-width="0.8"/>
<rect x="492.60" y="197.20" width="174.20" height="111.00" fill="none" stroke="#808080" stroke-width="0.8"/>
<line x1="492.60" y1="197.20" x2="492.60" y2="308.60" stroke="#6a6a6a" stroke-width="0.9"/>
<line x1="492.20" y1="308.20" x2="666.80" y2="308.20" stroke="#6a6a6a" stroke-width="0.9"/>
<line x1="492.60" y1="308.20" x2="492.60" y2="310.70" stroke="#6a6a6a" stroke-width="0.8"/>
<line x1="527.44" y1="308.20" x2="527.44" y2="310.70" stroke="#6a6a6a" stroke-width="0.8"/>
<line x1="562.28" y1="308.20" x2="562.28" y2="310.70" stroke="#6a6a6a" stroke-width="0.8"/>
<line x1="597.12" y1="308.20" x2="597.12" y2="310.70" stroke="#6a6a6a" stroke-width="0.8"/>
<line x1="631.96" y1="308.20" x2="631.96" y2="310.70" stroke="#6a6a6a" stroke-width="0.8"/>
<line x1="666.80" y1="308.20" x2="666.80" y2="310.70" stroke="#6a6a6a" stroke-width="0.8"/>
<text transform="translate(487.50 311.00) scale(1 1.04)" font-size="7.5" font-weight="normal" text-anchor="end" fill="#000" stroke="#000" stroke-width="0.0">0</text>
<text transform="translate(487.50 286.10) scale(1 1.04)" font-size="7.5" font-weight="normal" text-anchor="end" fill="#000" stroke="#000" stroke-width="0.0">10</text>
<text transform="translate(487.50 261.20) scale(1 1.04)" font-size="7.5" font-weight="normal" text-anchor="end" fill="#000" stroke="#000" stroke-width="0.0">20</text>
<text transform="translate(487.50 236.30) scale(1 1.04)" font-size="7.5" font-weight="normal" text-anchor="end" fill="#000" stroke="#000" stroke-width="0.0">30</text>
<text transform="translate(487.50 211.40) scale(1 1.04)" font-size="7.5" font-weight="normal" text-anchor="end" fill="#000" stroke="#000" stroke-width="0.0">40</text>
<text transform="translate(510.02 319.80) scale(1 1.0)" font-size="7.2" font-weight="normal" text-anchor="middle" fill="#000" stroke="#000" stroke-width="0.0">0</text>
<text transform="translate(544.86 319.80) scale(1 1.0)" font-size="7.2" font-weight="normal" text-anchor="middle" fill="#000" stroke="#000" stroke-width="0.0">1</text>
<text transform="translate(579.70 319.80) scale(1 1.0)" font-size="7.2" font-weight="normal" text-anchor="middle" fill="#000" stroke="#000" stroke-width="0.0">3</text>
<text transform="translate(614.54 319.80) scale(1 1.0)" font-size="7.2" font-weight="normal" text-anchor="middle" fill="#000" stroke="#000" stroke-width="0.0">5</text>
<text transform="translate(649.38 319.80) scale(1 1.0)" font-size="7.2" font-weight="normal" text-anchor="middle" fill="#000" stroke="#000" stroke-width="0.0">7</text>
<rect x="464.5" y="161.3" width="13.399999999999977" height="11.399999999999977" fill="#fff" stroke="#555" stroke-width="0.8"/>
<text transform="translate(471.20 169.80) scale(1 1.04)" font-size="7.6" font-weight="normal" text-anchor="middle" fill="#222" stroke="#222" stroke-width="0.15">f</text>
<polyline points="510.02,211.09 544.86,221.55 579.70,251.18 614.54,288.53 649.38,306.46" fill="none" stroke="#aaa" stroke-width="0.7" stroke-dasharray="2,1.5" stroke-linejoin="round"/>
<rect x="507.52" y="208.59" width="5.00" height="5.00" fill="#fff" stroke="#888" stroke-width="0.7"/>
<rect x="542.36" y="219.05" width="5.00" height="5.00" fill="#fff" stroke="#888" stroke-width="0.7"/>
<rect x="577.20" y="248.68" width="5.00" height="5.00" fill="#fff" stroke="#888" stroke-width="0.7"/>
<rect x="612.04" y="286.03" width="5.00" height="5.00" fill="#fff" stroke="#888" stroke-width="0.7"/>
<rect x="646.88" y="303.96" width="5.00" height="5.00" fill="#fff" stroke="#888" stroke-width="0.7"/>
<polyline points="510.02,216.07 544.86,251.93 579.70,271.60 614.54,294.01 649.38,305.96" fill="none" stroke="#aaa" stroke-width="0.7" stroke-dasharray="2,1.5" stroke-linejoin="round"/>
<circle cx="510.02" cy="216.07" r="2.50" fill="#fff" stroke="#888" stroke-width="0.7"/>
<circle cx="544.86" cy="251.93" r="2.50" fill="#fff" stroke="#888" stroke-width="0.7"/>
<circle cx="579.70" cy="271.60" r="2.50" fill="#fff" stroke="#888" stroke-width="0.7"/>
<circle cx="614.54" cy="294.01" r="2.50" fill="#fff" stroke="#888" stroke-width="0.7"/>
<circle cx="649.38" cy="305.96" r="2.50" fill="#fff" stroke="#888" stroke-width="0.7"/>
<polyline points="510.02,211.59 544.86,233.75 579.70,287.28 614.54,303.97 649.38,308.20" fill="none" stroke="#111" stroke-width="1.0" stroke-linejoin="round"/>
<rect x="507.72" y="209.29" width="4.60" height="4.60" fill="#000" stroke="#000" stroke-width="0.7"/>
<rect x="542.56" y="231.45" width="4.60" height="4.60" fill="#000" stroke="#000" stroke-width="0.7"/>
<rect x="577.40" y="284.98" width="4.60" height="4.60" fill="#000" stroke="#000" stroke-width="0.7"/>
<rect x="612.24" y="301.67" width="4.60" height="4.60" fill="#000" stroke="#000" stroke-width="0.7"/>
<rect x="647.08" y="305.90" width="4.60" height="4.60" fill="#000" stroke="#000" stroke-width="0.7"/>
<polyline points="510.02,217.07 544.86,265.87 579.70,291.77 614.54,303.22 649.38,305.71" fill="none" stroke="#111" stroke-width="1.0" stroke-linejoin="round"/>
<circle cx="510.02" cy="217.07" r="2.10" fill="#000" stroke="#000" stroke-width="0.7"/>
<circle cx="544.86" cy="265.87" r="2.10" fill="#000" stroke="#000" stroke-width="0.7"/>
<circle cx="579.70" cy="291.77" r="2.10" fill="#000" stroke="#000" stroke-width="0.7"/>
<circle cx="614.54" cy="303.22" r="2.10" fill="#000" stroke="#000" stroke-width="0.7"/>
<circle cx="649.38" cy="305.71" r="2.10" fill="#000" stroke="#000" stroke-width="0.7"/>
<line x1="500.90" y1="170.00" x2="517.20" y2="170.00" stroke="#999" stroke-width="1" stroke-dasharray="1.8,1.2"/>
<rect x="507.15" y="168.10" width="3.80" height="3.80" fill="#fff" stroke="#444" stroke-width="0.7"/>
<text transform="translate(519.90 172.40) scale(1 1.04)" font-size="7.4" font-weight="normal" text-anchor="start" fill="#000" stroke="#000" stroke-width="0.18">Phosphorus 1 g</text>
<line x1="500.90" y1="179.80" x2="517.20" y2="179.80" stroke="#999" stroke-width="1" stroke-dasharray="1.8,1.2"/>
<circle cx="509.05" cy="179.80" r="1.90" fill="#fff" stroke="#444" stroke-width="0.7"/>
<text transform="translate(519.90 182.20) scale(1 1.04)" font-size="7.4" font-weight="normal" text-anchor="start" fill="#000" stroke="#000" stroke-width="0.18">Magnesium 1 g</text>
<line x1="600.10" y1="170.00" x2="615.50" y2="170.00" stroke="#000" stroke-width="1"/>
<rect x="605.90" y="168.10" width="3.80" height="3.80" fill="#000" stroke="#000" stroke-width="0.7"/>
<text transform="translate(618.70 172.40) scale(1 1.04)" font-size="7.4" font-weight="normal" text-anchor="start" fill="#000" stroke="#000" stroke-width="0.18">Phosphorus 5 g</text>
<line x1="600.10" y1="179.80" x2="615.50" y2="179.80" stroke="#000" stroke-width="1"/>
<circle cx="607.80" cy="179.80" r="1.70" fill="#000" stroke="#000" stroke-width="0.7"/>
<text transform="translate(618.70 182.20) scale(1 1.04)" font-size="7.4" font-weight="normal" text-anchor="start" fill="#000" stroke="#000" stroke-width="0.18">Magnesium 5 g</text>
<text transform="translate(470.50 245.00) rotate(-90) scale(1.0 1)" font-size="7.2" font-weight="bold" text-anchor="middle" fill="#000" stroke="#000" stroke-width="0.3">Magnesium, Phosphorus (mg L<tspan font-size="4.5" dy="-2.5">-1</tspan><tspan dy="2.5">)</tspan></text>
<text transform="translate(583.60 328.00) scale(1 1.04)" font-size="6.9" font-weight="bold" text-anchor="middle" fill="#000" stroke="#000" stroke-width="0.3">Weeks</text>
</g></svg></div></body></html>
